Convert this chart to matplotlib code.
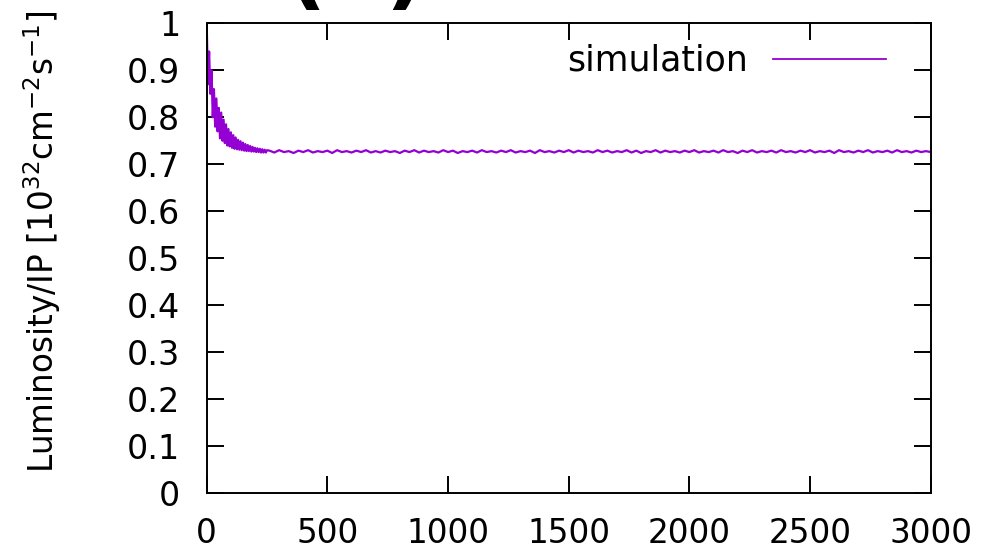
import numpy as np
import matplotlib

matplotlib.use("Agg")
import matplotlib.pyplot as plt

plt.rcParams["font.family"] = ["DejaVu Sans"]
plt.rcParams["mathtext.fontset"] = "dejavusans"

# ── Data ────────────────────────────────────────────────────────────────
# Early transient, sampled every 5 turns (0 .. 250)
t_start = np.arange(0, 255, 5)
lumi_start = [
    1.000, 0.870, 0.940, 0.850, 0.900, 0.800, 0.860, 0.780, 0.840, 0.770,
    0.820, 0.755, 0.810, 0.750, 0.795, 0.745, 0.785, 0.740, 0.775, 0.738,
    0.768, 0.735, 0.762, 0.733, 0.757, 0.732, 0.752, 0.731, 0.749, 0.730,
    0.746, 0.729, 0.743, 0.728, 0.741, 0.728, 0.739, 0.727, 0.737, 0.727,
    0.735, 0.726, 0.734, 0.726, 0.733, 0.725, 0.732, 0.725, 0.731, 0.725,
    0.730,
]

# Equilibrium plateau, sampled every 20 turns (260 .. 3000)
t_flat = np.arange(260, 3001, 20)
lumi_flat = [
    0.729, 0.725, 0.730, 0.726, 0.728, 0.724, 0.729, 0.726, 0.730, 0.725,
    0.728, 0.726, 0.729, 0.724, 0.730, 0.726, 0.728, 0.725, 0.729, 0.726,
    0.730, 0.725, 0.728, 0.725, 0.729, 0.726, 0.728, 0.724, 0.729, 0.726,
    0.730, 0.725, 0.729, 0.726, 0.728, 0.725, 0.730, 0.726, 0.729, 0.724,
    0.728, 0.726, 0.729, 0.725, 0.730, 0.726, 0.728, 0.725, 0.729, 0.726,
    0.730, 0.725, 0.728, 0.726, 0.729, 0.724, 0.730, 0.726, 0.728, 0.725,
    0.729, 0.726, 0.730, 0.725, 0.729, 0.726, 0.728, 0.725, 0.730, 0.726,
    0.729, 0.725, 0.728, 0.726, 0.730, 0.725, 0.729, 0.724, 0.728, 0.726,
    0.730, 0.725, 0.729, 0.726, 0.728, 0.725, 0.729, 0.726, 0.730, 0.725,
    0.728, 0.726, 0.729, 0.725, 0.730, 0.726, 0.728, 0.724, 0.729, 0.726,
    0.730, 0.725, 0.728, 0.726, 0.729, 0.725, 0.730, 0.726, 0.728, 0.725,
    0.729, 0.726, 0.730, 0.725, 0.728, 0.726, 0.729, 0.724, 0.730, 0.726,
    0.728, 0.725, 0.729, 0.726, 0.730, 0.725, 0.728, 0.726, 0.729, 0.725,
    0.730, 0.726, 0.728, 0.725, 0.729, 0.726, 0.728, 0.726,
]

x_ticks = [0, 500, 1000, 1500, 2000, 2500, 3000]
y_ticks = [0, 0.1, 0.2, 0.3, 0.4, 0.5, 0.6, 0.7, 0.8, 0.9, 1]
y_tick_labels = ["0", "0.1", "0.2", "0.3", "0.4", "0.5", "0.6", "0.7", "0.8", "0.9", "1"]

LINE_COLOR = "#9400d3"
TICK_FS = 24
XTICK_FS = 23.5
LEGEND_FS = 25
LABEL_FS = 23.5

t = np.concatenate([t_start, t_flat])
lumi = np.concatenate([lumi_start, lumi_flat])

fig = plt.figure(figsize=(10.02, 5.57), dpi=100)
ax = fig.add_axes([0.2063, 0.1144, 0.7226, 0.8438])

ax.plot(t, lumi, color=LINE_COLOR, linewidth=1.6, label="simulation")

ax.set_xlim(0, 3000)
ax.set_ylim(0, 1)
ax.set_xticks(x_ticks)
ax.set_yticks(y_ticks)
ax.set_yticklabels(y_tick_labels)

for s in ax.spines.values():
    s.set_linewidth(1.4)
    s.set_color("black")
ax.tick_params(direction="in", length=12, width=1.4, top=True, right=True,
               labelsize=TICK_FS, colors="black")
ax.tick_params(axis="y", pad=19)
ax.tick_params(axis="x", pad=17, labelsize=XTICK_FS)

# legend: text on the left, sample line on the right (gnuplot style)
leg = ax.legend(loc="center right", bbox_to_anchor=(0.9383, 0.9198), frameon=False,
                markerfirst=False, handlelength=3.26, handletextpad=0.72,
                borderpad=0, borderaxespad=0, fontsize=LEGEND_FS)
for h in leg.get_lines():
    h.set_linewidth(1.3)

fig.text(0.042, 0.5664, r"Luminosity/IP [10$^{32}$cm$^{-2}$s$^{-1}$]",
         rotation=90, ha="center", va="center", fontsize=LABEL_FS)

# panel label, mostly cut off by the top edge (as in the reference)
fig.text(356 / 1002, 1 + 2 / 557, "(a)", ha="center", va="baseline",
         fontsize=64, fontweight="bold")

fig.savefig("out.png", dpi=100, facecolor="white")
